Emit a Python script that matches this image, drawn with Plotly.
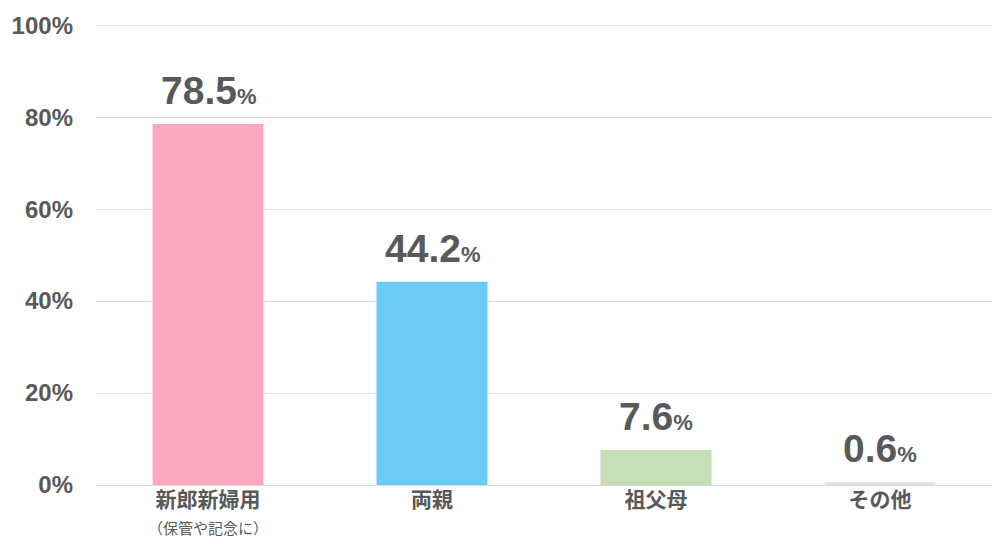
import plotly.graph_objects as go

categories = ["新郎新婦用", "両親", "祖父母", "その他"]
sub_labels = ["（保管や記念に）", "", "", ""]
values = [78.5, 44.2, 7.6, 0.6]
bar_colors = ["#fda7c0", "#6acbf5", "#c5e0b4", "#e3e3e3"]
y_ticks = [0, 20, 40, 60, 80, 100]

tick_text = []
for c, s in zip(categories, sub_labels):
    t = f"<b>{c}</b>"
    if s:
        t += f"<br><span style='font-size:15px'>{s}</span>"
    tick_text.append(t)

fig = go.Figure(go.Bar(
    x=categories,
    y=values,
    marker=dict(color=bar_colors, line=dict(width=0)),
    hoverinfo="skip",
))

# value labels above the bars
for c, v in zip(categories, values):
    fig.add_annotation(
        x=c, y=v, yanchor="bottom", yshift=10, showarrow=False,
        text=f"<b>{v:.1f}</b><b><span style='font-size:22px'>%</span></b>",
        font=dict(size=39, color="#595959", family="Liberation Sans, Arial, sans-serif"),
    )

fig.update_layout(
    width=1000, height=544,
    margin=dict(l=88, r=16, t=8, b=67),
    paper_bgcolor="white",
    plot_bgcolor="white",
    bargap=0.505,
    showlegend=False,
    font=dict(family="Liberation Sans, Noto Sans CJK JP, sans-serif", color="#595959"),
)
fig.update_xaxes(
    tickmode="array", tickvals=categories, ticktext=tick_text,
    tickfont=dict(size=21, color="#595959", family="Noto Sans CJK JP, sans-serif"),
    showline=False, showgrid=False, ticks="", automargin=False,
)
fig.update_yaxes(
    range=[0, 102], tickvals=y_ticks,
    ticktext=[f"<b>{t}%</b>" for t in y_ticks],
    tickfont=dict(size=24, color="#595959", family="Liberation Sans, Arial, sans-serif"),
    showgrid=True, gridcolor="#e0e0e0", gridwidth=1,
    zeroline=True, zerolinecolor="#d9d9d9", zerolinewidth=1,
    ticks="", ticklabelstandoff=22, automargin=False,
)

fig.write_html("out.html")
